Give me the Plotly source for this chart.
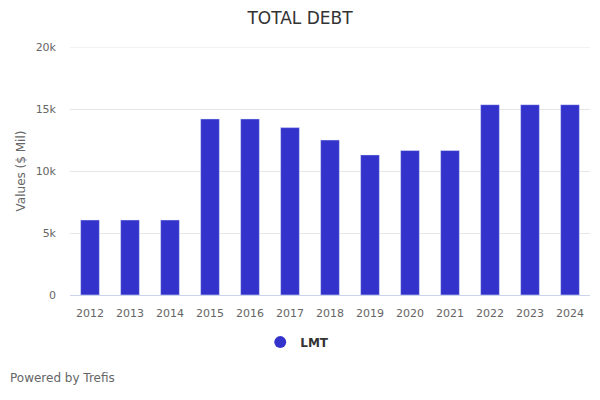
import plotly.graph_objects as go

years = ["2012", "2013", "2014", "2015", "2016", "2017", "2018", "2019", "2020", "2021", "2022", "2023", "2024"]
lmt_debt = [6050, 6050, 6050, 14200, 14200, 13500, 12500, 11300, 11650, 11650, 15350, 15350, 15350]

fig = go.Figure()
fig.add_trace(go.Bar(
    x=years, y=lmt_debt, name="LMT",
    marker=dict(color="#3333cc"), width=0.47,
    showlegend=False,
))
fig.add_trace(go.Scatter(
    x=[years[0]], y=[None], name="<b>LMT</b>", mode="markers",
    marker=dict(color="#3333cc", size=12, symbol="circle"),
    showlegend=True,
))

fig.update_layout(
    width=600, height=400,
    paper_bgcolor="white", plot_bgcolor="white",
    font=dict(family="DejaVu Sans, sans-serif", color="#666666", size=11),
    title=dict(text="TOTAL DEBT", x=0.5, xanchor="center", y=0.955, yanchor="middle",
               font=dict(size=17, color="#333333")),
    margin=dict(l=70, r=10, t=47, b=105),
    xaxis=dict(type="category", range=[-0.5, len(years) - 0.5], showgrid=False,
               showline=True, linecolor="#ccd6eb",
               ticks="", tickfont=dict(size=11, color="#666666"), automargin=False,
               ticklabelstandoff=8),
    yaxis=dict(range=[0, 20000], tickvals=[0, 5000, 10000, 15000, 20000],
               ticktext=["0", "5k", "10k", "15k", "20k"],
               showgrid=True, gridcolor="#e6e6e6", zeroline=False, automargin=False,
               ticklabelstandoff=13,
               title=dict(text="Values ($ Mil)", font=dict(size=12, color="#666666"), standoff=7),
               tickfont=dict(size=11, color="#666666")),
    legend=dict(orientation="h", x=0.437, xanchor="center", xref="paper", y=-0.19, yanchor="middle",
                font=dict(size=12, color="#333333", family="DejaVu Sans, sans-serif")),
    shapes=[dict(type="line", xref="paper", yref="y", x0=0, x1=1, y0=20000, y1=20000,
                 line=dict(color="#e6e6e6", width=1), layer="below")],
    annotations=[dict(text="Powered by Trefis", xref="paper", yref="paper", x=-0.119, y=-0.335,
                      xanchor="left", yanchor="middle", showarrow=False,
                      font=dict(size=12, color="#666666"))],
)

fig.write_html("out.html", config={"displayModeBar": False},
               post_script="document.body.style.margin='0';")
